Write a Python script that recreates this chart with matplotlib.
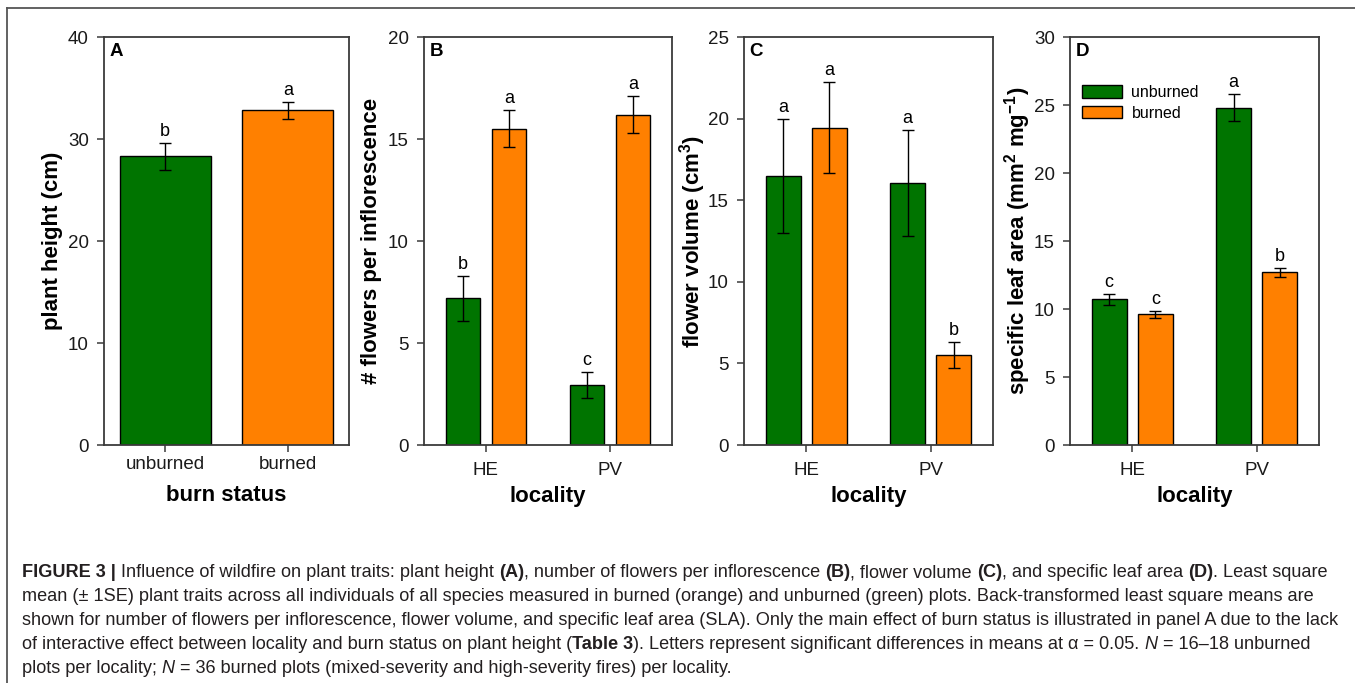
import matplotlib
matplotlib.use('Agg')
import matplotlib.pyplot as plt
from matplotlib.lines import Line2D
from matplotlib.patches import Patch

plt.rcParams['font.family'] = ['Liberation Sans', 'DejaVu Sans']
plt.rcParams['mathtext.fontset'] = 'custom'
plt.rcParams['mathtext.rm'] = 'Liberation Sans'
plt.rcParams['mathtext.bf'] = 'Liberation Sans:bold'
plt.rcParams['mathtext.default'] = 'regular'

GREEN = '#007400'
ORANGE = '#ff8000'

# panel A: plant height by burn status
status = ['unburned', 'burned']
height_mean = [28.3, 32.8]
height_se = [1.3, 0.85]
height_letters = ['b', 'a']

# panels B-D: locality x burn status
locality = ['HE', 'PV']
flowers_unburned = [7.2, 2.95]
flowers_unburned_se = [1.1, 0.65]
flowers_burned = [15.5, 16.2]
flowers_burned_se = [0.9, 0.9]
flowers_letters = (['b', 'c'], ['a', 'a'])

volume_unburned = [16.5, 16.05]
volume_unburned_se = [3.5, 3.25]
volume_burned = [19.45, 5.5]
volume_burned_se = [2.8, 0.8]
volume_letters = (['a', 'a'], ['a', 'b'])

sla_unburned = [10.7, 24.8]
sla_unburned_se = [0.43, 1.0]
sla_burned = [9.6, 12.7]
sla_burned_se = [0.27, 0.33]
sla_letters = (['c', 'a'], ['c', 'b'])

W, H = 1355, 683
fig = plt.figure(figsize=(W / 100, H / 100), dpi=100)


def px_axes(l, t, r, b):
    return fig.add_axes([l / W, 1 - b / H, (r - l) / W, (b - t) / H])


def style_axes(ax, ymax, ystep, ylabel, xlabel, letter, ylab_x, xpad):
    ax.set_ylim(0, ymax)
    ax.set_yticks(range(0, ymax + 1, ystep))
    ax.set_xlim(-0.5, 1.5)
    for sp in ax.spines.values():
        sp.set_color('#3a3a3a')
        sp.set_linewidth(1.3)
    ax.tick_params(axis='both', direction='out', length=5, width=1.1,
                   color='#3a3a3a', labelcolor='#1a1a1a', labelsize=13.5)
    ax.tick_params(axis='y', pad=6)
    ax.tick_params(axis='x', pad=xpad)
    ax.set_ylabel(ylabel, fontsize=16, fontweight='bold', va='center')
    ax.yaxis.set_label_coords(ylab_x, 0.5)
    ax.set_xlabel(xlabel, fontsize=16, fontweight='bold', va='center')
    ax.xaxis.set_label_coords(0.5, -0.127)
    ax.text(0.022, 0.985, letter, transform=ax.transAxes, fontsize=13.5,
            fontweight='bold', va='top', ha='left')


def letters_above(ax, xs, means, ses, labels):
    for x, m, s, lab in zip(xs, means, ses, labels):
        ax.annotate(lab, (x, m + s), xytext=(0, 5), textcoords='offset points',
                    ha='center', va='baseline', fontsize=13)


def bars(ax, xs, means, ses, color, width):
    ax.bar(xs, means, width=width, color=color, edgecolor='black',
           linewidth=1.0, zorder=2)
    ax.errorbar(xs, means, yerr=ses, fmt='none', ecolor='black',
                elinewidth=1.0, capsize=4.5, capthick=1.0, zorder=3)


# A
axA = px_axes(104, 37, 349, 445)
xA = [0, 1]
axA.bar(xA, height_mean, width=0.74, color=[GREEN, ORANGE],
        edgecolor='black', linewidth=1.0, zorder=2)
axA.errorbar(xA, height_mean, yerr=height_se, fmt='none', ecolor='black',
             elinewidth=1.0, capsize=4.5, capthick=1.0, zorder=3)
letters_above(axA, xA, height_mean, height_se, height_letters)
axA.set_xticks(xA)
axA.set_xticklabels(status)
style_axes(axA, 40, 10, 'plant height (cm)', 'burn status', 'A', -0.212, 3)
axA.xaxis.set_label_coords(0.5, -0.123)

off, bw = 0.185, 0.28
xu = [i - off for i in range(len(locality))]
xb = [i + off for i in range(len(locality))]

panels = [
    ((424, 37, 672, 445), 20, 5, '# flowers per inflorescence', 'B', -0.21,
     flowers_unburned, flowers_unburned_se, flowers_burned, flowers_burned_se,
     flowers_letters),
    ((744, 37, 993, 445), 25, 5, 'flower volume (cm$^{3}$)', 'C', -0.205,
     volume_unburned, volume_unburned_se, volume_burned, volume_burned_se,
     volume_letters),
    ((1070, 37, 1319, 445), 30, 5, 'specific leaf area (mm$^{2}$ mg$^{-1}$)',
     'D', -0.209, sla_unburned, sla_unburned_se, sla_burned, sla_burned_se,
     sla_letters),
]

for box, ymax, ystep, ylab, letter, ylx, mu, su, mb, sb, lets in panels:
    ax = px_axes(*box)
    bars(ax, xu, mu, su, GREEN, bw)
    bars(ax, xb, mb, sb, ORANGE, bw)
    letters_above(ax, xu, mu, su, lets[0])
    letters_above(ax, xb, mb, sb, lets[1])
    ax.set_xticks(range(len(locality)))
    ax.set_xticklabels(locality)
    style_axes(ax, ymax, ystep, ylab, 'locality', letter, ylx, 7)
    if letter == 'D':
        handles = [Patch(facecolor=GREEN, edgecolor='black', linewidth=1.0),
                   Patch(facecolor=ORANGE, edgecolor='black', linewidth=1.0)]
        ax.legend(handles, ['unburned', 'burned'], loc='upper left',
                  bbox_to_anchor=(0.035, 0.89), frameon=False, fontsize=11.5,
                  handlelength=2.5, handleheight=0.8, handletextpad=0.6,
                  labelspacing=0.35, borderpad=0.2, borderaxespad=0)

# frame lines around the figure panel
fig.add_artist(Line2D([7 / W, 1], [1 - 8 / H, 1 - 8 / H], color='#555555', lw=1.3))
fig.add_artist(Line2D([7 / W, 7 / W], [0, 1 - 8 / H], color='#555555', lw=1.3))

# caption, drawn segment by segment so bold / italic runs can be mixed
CAP_FONT = ['Liberation Sans', 'DejaVu Sans']
CAP_SIZE = 13.05
renderer = fig.canvas.get_renderer()


def seg_width(s, **kw):
    t1 = fig.text(0, 0, 'x' + s + 'x', **kw)
    t2 = fig.text(0, 0, 'xx', **kw)
    w = t1.get_window_extent(renderer).width - t2.get_window_extent(renderer).width
    t1.remove()
    t2.remove()
    return w


B, I = 'bold', 'italic'
caption = [
    [('FIGURE 3 |', B), (' Influence of wildfire on plant traits: plant height ', None),
     ('(A)', B), (', number of flowers per inflorescence ', None), ('(B)', B),
     (', flower volume ', None), ('(C)', B), (', and specific leaf area ', None),
     ('(D)', B), ('. Least square', None)],
    [('mean (\u00b1 1SE) plant traits across all individuals of all species measured '
      'in burned (orange) and unburned (green) plots. Back-transformed least square means are', None)],
    [('shown for number of flowers per inflorescence, flower volume, and specific leaf area '
      '(SLA). Only the main effect of burn status is illustrated in panel A due to the lack', None)],
    [('of interactive effect between locality and burn status on plant height (', None),
     ('Table 3', B), ('). Letters represent significant differences in means at \u03b1 = 0.05. ', None),
     ('N', I), (' = 16\u201318 unburned', None)],
    [('plots per locality; ', None), ('N', I),
     (' = 36 burned plots (mixed-severity and high-severity fires) per locality.', None)],
]

y0 = 577
for k, line in enumerate(caption):
    x = 22
    yb = 1 - (y0 + 24 * k) / H
    for text, kind in line:
        kw = dict(family=CAP_FONT, fontsize=CAP_SIZE, color='#231f20')
        if kind == B:
            kw['fontweight'] = 'bold'
        elif kind == I:
            kw['fontstyle'] = 'italic'
        fig.text(x / W, yb, text, va='baseline', ha='left', **kw)
        x += seg_width(text, **kw)

fig.savefig('out.png', dpi=100)
